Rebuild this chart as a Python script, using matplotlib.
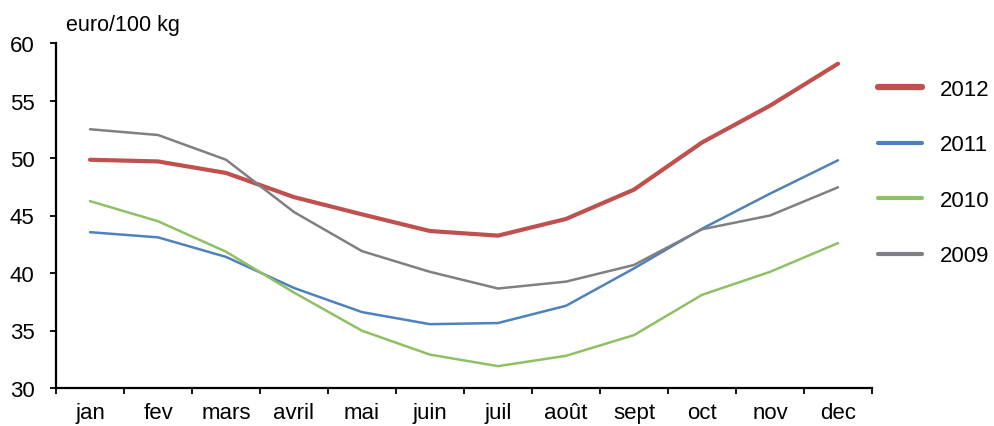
import matplotlib
matplotlib.use("Agg")
import matplotlib.pyplot as plt
from matplotlib.lines import Line2D
import numpy as np

plt.rcParams['font.family'] = ['Liberation Sans', 'DejaVu Sans']

months = ["jan", "fev", "mars", "avril", "mai", "juin", "juil", "août", "sept", "oct", "nov", "dec"]
y2012 = [49.85, 49.7, 48.7, 46.6, 45.1, 43.65, 43.25, 44.7, 47.25, 51.35, 54.55, 58.2]
y2011 = [43.55, 43.1, 41.4, 38.7, 36.6, 35.55, 35.65, 37.15, 40.4, 43.85, 46.9, 49.8]
y2010 = [46.25, 44.5, 41.85, 38.3, 34.98, 32.9, 31.9, 32.8, 34.6, 38.1, 40.1, 42.6]
y2009 = [52.5, 52.0, 49.85, 45.3, 41.9, 40.1, 38.65, 39.25, 40.7, 43.8, 45.0, 47.45]
years = ["2012", "2011", "2010", "2009"]
yticks = [30, 35, 40, 45, 50, 55, 60]
unit_label = "euro/100 kg"

colors = ["#C0504D", "#4F81BD", "#8FC064", "#7F7F84"]
widths = [3.0, 1.8, 1.8, 1.8]
leg_widths = [4.5, 3.0, 3.0, 3.0]

fig = plt.figure(figsize=(9.94, 4.27), dpi=100)
ax = fig.add_axes([56/994, 1-389/427, (872-56)/994, (389-44)/427])

x = np.arange(len(months))
series = [y2012, y2011, y2010, y2009]
for s, c, w in zip(series, colors, widths):
    ax.plot(x, s, color=c, lw=w, solid_capstyle='round', solid_joinstyle='round')

ax.set_xlim(-0.5, len(months) - 0.5)
ax.set_ylim(30, 60)
ax.set_yticks(yticks)
ax.set_yticklabels([str(v) for v in yticks])
ax.set_xticks(x)
ax.set_xticklabels(months)
ax.set_xticks(np.arange(-0.5, len(months)), minor=True)
ax.tick_params(axis='x', which='major', length=0, pad=10, labelsize=16)
ax.tick_params(axis='x', which='minor', length=4.5, width=1.3, direction='out')
ax.tick_params(axis='y', length=4.5, width=1.3, direction='out', pad=11, labelsize=16)

for side in ['top', 'right']:
    ax.spines[side].set_visible(False)
for side in ['left', 'bottom']:
    ax.spines[side].set_linewidth(1.6)
    ax.spines[side].set_color('black')

fig.text(66/994, 1-25/427, unit_label, fontsize=15.5, va='center', ha='left')

handles = [Line2D([0], [0], color=c, lw=w, solid_capstyle='round') for c, w in zip(colors, leg_widths)]
fig.legend(handles, years, loc='upper left', bbox_to_anchor=(878/994, 1-80/427),
           frameon=False, fontsize=16, handlelength=2.0, handletextpad=0.8,
           labelspacing=1.55, borderpad=0, borderaxespad=0)

fig.savefig("out.png", dpi=100)
